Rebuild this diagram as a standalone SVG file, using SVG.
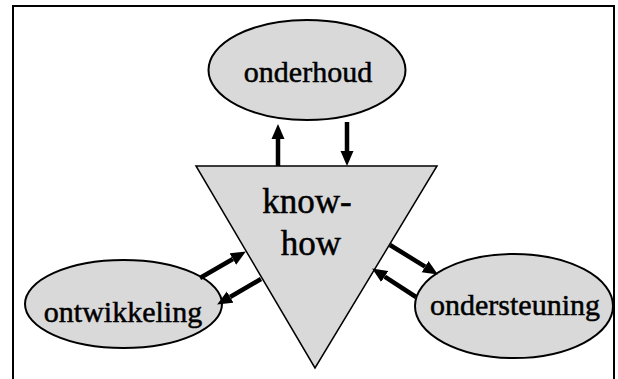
<svg xmlns="http://www.w3.org/2000/svg" width="618" height="379" viewBox="0 0 618 379">
<style>
.node{fill:#d9d9d9;stroke:#000;stroke-width:2}
.tri{fill:#d9d9d9;stroke:#000;stroke-width:1.5}
.lbl{font-family:"Liberation Serif","Times New Roman",serif;font-size:30px;fill:#000;stroke:#000;stroke-width:0.5;text-anchor:middle}
.big{font-size:35px}
.arr{stroke:#000;stroke-width:4.5;fill:none;marker-end:url(#ah)}
</style>
<defs>
<marker id="ah" markerUnits="userSpaceOnUse" markerWidth="16" markerHeight="14" viewBox="0 -7 16 14" refX="0" refY="0" orient="auto">
<path d="M0,-6.5 L15,0 L0,6.5 z" fill="#000"/>
</marker>
</defs>
<rect width="618" height="379" fill="#fff"/>
<polyline points="13,379 13,6 614,6 614,379" fill="none" stroke="#000" stroke-width="2"/>
<g id="knowhow">
<polygon class="tri" points="196,166 437,166 315,368"/>
<text class="lbl big" x="307" y="213">know-</text>
<text class="lbl big" x="311" y="255">how</text>
</g>
<g id="onderhoud">
<ellipse class="node" cx="307" cy="70" rx="98.5" ry="50"/>
<text class="lbl" x="308" y="82">onderhoud</text>
</g>
<g id="ontwikkeling">
<ellipse class="node" cx="123.5" cy="304" rx="98.5" ry="44"/>
<text class="lbl" x="123" y="322">ontwikkeling</text>
</g>
<g id="ondersteuning">
<ellipse class="node" cx="514" cy="306" rx="99" ry="52"/>
<text class="lbl" x="515" y="315">ondersteuning</text>
</g>
<g id="connectors">
<line class="arr" x1="278" y1="166" x2="278" y2="139"/>
<line class="arr" x1="347" y1="122" x2="347" y2="151"/>
<line class="arr" x1="200" y1="278" x2="232.9" y2="259"/>
<line class="arr" x1="261" y1="279" x2="230.1" y2="297"/>
<line class="arr" x1="390" y1="245" x2="425.1" y2="266.6"/>
<line class="arr" x1="416" y1="297" x2="384.7" y2="276.6"/>
</g>
</svg>
